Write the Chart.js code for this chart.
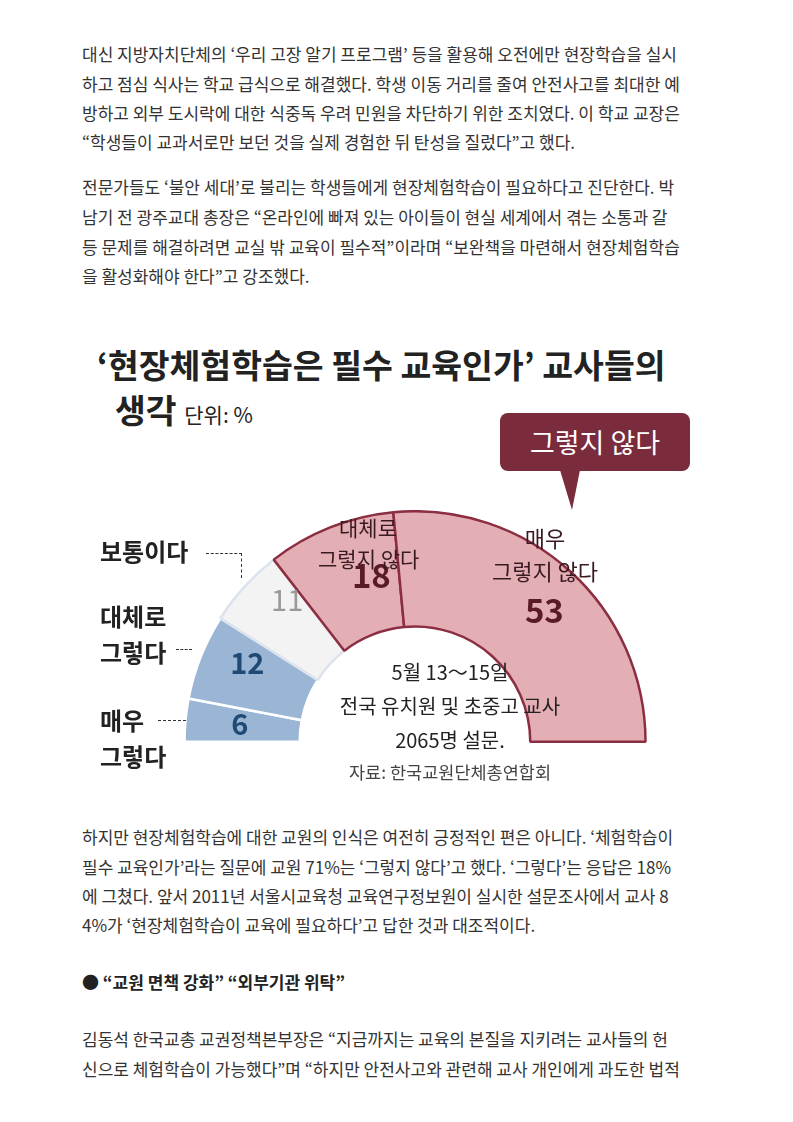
<!DOCTYPE html>
<html><head><meta charset="utf-8">
<script src="https://cdn.jsdelivr.net/npm/chart.js@4.4.0/dist/chart.umd.min.js"></script>
<style>
body{margin:0;width:793px;height:1122px;background:#fff;position:relative;font-family:"Noto Sans CJK KR","Noto Sans",sans-serif;overflow:hidden}
.t{position:absolute;left:82px;font-size:17px;color:#333;white-space:nowrap;line-height:20px}
.a{position:absolute;white-space:nowrap;line-height:1.15}
.dot{position:absolute;border-color:#333;border-style:dashed;border-width:0}
</style></head><body>
<div class="t" style="top:44px">대신 지방자치단체의 ‘우리 고장 알기 프로그램’ 등을 활용해 오전에만 현장학습을 실시</div>
<div class="t" style="top:74px">하고 점심 식사는 학교 급식으로 해결했다. 학생 이동 거리를 줄여 안전사고를 최대한 예</div>
<div class="t" style="top:103px">방하고 외부 도시락에 대한 식중독 우려 민원을 차단하기 위한 조치였다. 이 학교 교장은</div>
<div class="t" style="top:132px">“학생들이 교과서로만 보던 것을 실제 경험한 뒤 탄성을 질렀다”고 했다.</div>
<div class="t" style="top:177px">전문가들도 ‘불안 세대’로 불리는 학생들에게 현장체험학습이 필요하다고 진단한다. 박</div>
<div class="t" style="top:207px">남기 전 광주교대 총장은 “온라인에 빠져 있는 아이들이 현실 세계에서 겪는 소통과 갈</div>
<div class="t" style="top:237px">등 문제를 해결하려면 교실 밖 교육이 필수적”이라며 “보완책을 마련해서 현장체험학습</div>
<div class="t" style="top:266px">을 활성화해야 한다”고 강조했다.</div>

<div class="a" style="left:97px;top:345px;font-size:33.5px;font-weight:bold;color:#222">‘현장체험학습은 필수 교육인가’ 교사들의</div>
<div class="a" style="left:115px;top:390px;font-size:33.5px;font-weight:bold;color:#222">생각 <span style="font-size:21px;font-weight:normal">단위: %</span></div>

<div class="a" style="left:500px;top:413px;width:190px;height:58px;background:#7a2b3c;border-radius:8px;color:#fff;font-size:27px;text-align:center;line-height:58px">그렇지 않다</div>
<div style="position:absolute;left:560px;top:470px;width:0;height:0;border-left:12px solid transparent;border-right:8px solid transparent;border-top:40px solid #7a2b3c"></div>

<div style="position:absolute;left:183px;top:510px;width:464px;height:233px"><canvas id="c"></canvas></div>

<div class="a" style="left:100px;top:537px;font-size:24px;font-weight:bold;color:#222">보통이다</div>
<div class="dot" style="left:206px;top:553px;width:35px;border-top-width:1.5px;border-right-width:1.5px;height:24px"></div>
<div class="a" style="left:100px;top:598px;font-size:24px;font-weight:bold;color:#222;line-height:36px">대체로<br>그렇다</div>
<div class="dot" style="left:176px;top:649px;width:16px;border-top-width:1.5px"></div>
<div class="a" style="left:100px;top:702px;font-size:24px;font-weight:bold;color:#222;line-height:36px">매우<br>그렇다</div>
<div class="dot" style="left:158px;top:720px;width:28px;border-top-width:1.5px"></div>

<div class="a" style="left:318px;top:512px;width:100px;text-align:center;font-size:21px;color:#3a1a22;line-height:31px">대체로<br>그렇지 않다</div>
<div class="a" style="left:470px;top:521px;width:150px;text-align:center;font-size:22px;color:#3a1a22;line-height:33px">매우<br>그렇지 않다</div>

<div class="a" style="left:300px;top:655px;width:300px;text-align:center;font-size:20px;color:#222;line-height:34px">5월 13～15일<br>전국 유치원 및 초중고 교사<br>2065명 설문.</div>
<div class="a" style="left:300px;top:762px;width:300px;text-align:center;font-size:17.5px;color:#444">자료: 한국교원단체총연합회</div>

<div class="t" style="top:827px">하지만 현장체험학습에 대한 교원의 인식은 여전히 긍정적인 편은 아니다. ‘체험학습이</div>
<div class="t" style="top:857px">필수 교육인가’라는 질문에 교원 71%는 ‘그렇지 않다’고 했다. ‘그렇다’는 응답은 18%</div>
<div class="t" style="top:886px">에 그쳤다. 앞서 2011년 서울시교육청 교육연구정보원이 실시한 설문조사에서 교사 8</div>
<div class="t" style="top:915px">4%가 ‘현장체험학습이 교육에 필요하다’고 답한 것과 대조적이다.</div>
<div class="t" style="top:972px;font-weight:bold;color:#222">● “교원 면책 강화” “외부기관 위탁”</div>
<div class="t" style="top:1029px">김동석 한국교총 교권정책본부장은 “지금까지는 교육의 본질을 지키려는 교사들의 헌</div>
<div class="t" style="top:1059px">신으로 체험학습이 가능했다”며 “하지만 안전사고와 관련해 교사 개인에게 과도한 법적</div>

<script>
const categories=["매우 그렇다","대체로 그렇다","보통이다","대체로 그렇지 않다","매우 그렇지 않다"];
const values=[6,12,11,18,53];
const fills=["#9bb6d4","#9bb6d4","#f3f3f3","#e4aeb5","#e4aeb5"];
const borders=["#ffffff","#ffffff","#dde3ee","#8c2e42","#8c2e42"];
const numColors=["#1f4a75","#1f4a75","#999999","#5a1b28","#5a1b28"];
const numOffsets=[[-3,-1],[-7,-15],[0,-25],[20,-6],[13,-3]];
const numPlugin={id:'nums',afterDatasetsDraw(ch){
 const ctx=ch.ctx;const meta=ch.getDatasetMeta(0);
 meta.data.forEach((arc,i)=>{const p=arc.tooltipPosition();
  ctx.save();ctx.fillStyle=numColors[i];ctx.textAlign='center';ctx.textBaseline='middle';
  ctx.font=(i==2?'normal ':'bold ')+(i>2?'33px':'29px')+' "Noto Sans CJK KR",sans-serif';
  ctx.fillText(values[i],p.x+numOffsets[i][0],p.y+numOffsets[i][1]);ctx.restore();});
}};
new Chart(document.getElementById('c'),{type:'doughnut',
 data:{labels:categories,datasets:[{data:values,backgroundColor:fills,borderColor:borders,borderWidth:2.5}]},
 options:{responsive:true,maintainAspectRatio:false,animation:false,rotation:-90,circumference:180,cutout:'50%',
  layout:{padding:0},plugins:{legend:{display:false},tooltip:{enabled:false}}},
 plugins:[numPlugin]});
</script>
</body></html>
